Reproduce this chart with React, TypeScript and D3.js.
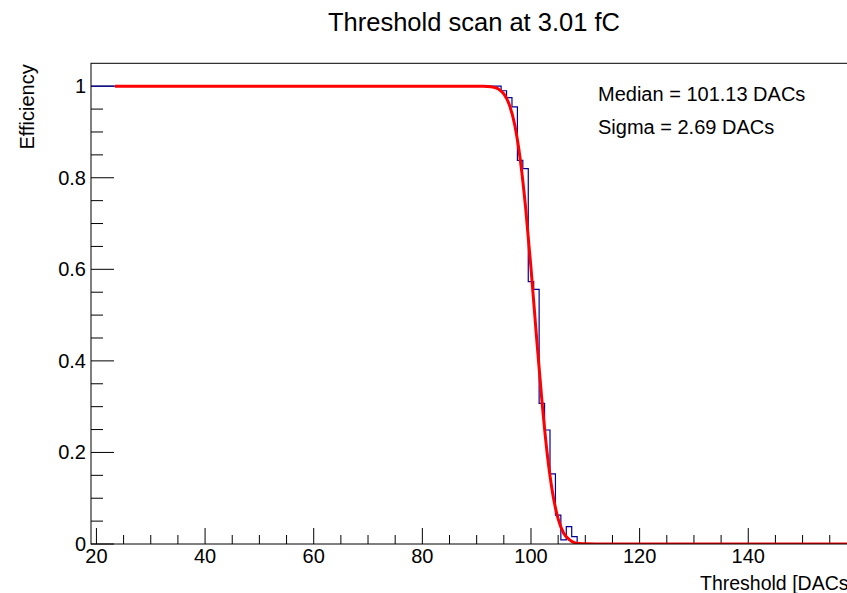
import React from "react";
import * as d3 from "d3";

// ---- data ----
const title = "Threshold scan at 3.01 fC";
const xTitle = "Threshold [DACs]";
const yTitle = "Efficiency";
const statLines = ["Median = 101.13 DACs", "Sigma = 2.69 DACs"];

const xDomain = [19, 160];
const yDomain = [0, 1.05];
const xMajorTicks = [20, 40, 60, 80, 100, 120, 140];
const yMajorTicks = [0, 0.2, 0.4, 0.6, 0.8, 1];
const yTickLabels = ["0", "0.2", "0.4", "0.6", "0.8", "1"];

// histogram: plateau at 1 from range start, transition bins (centres), then 0
const histStart = 19;
const histEnd = 160;
const binCenters = [94, 95, 96, 97, 98, 99, 100, 101, 102, 103, 104, 105, 106, 107, 108];
const binValues = [1.0, 0.99, 0.975, 0.955, 0.838, 0.82, 0.573, 0.556, 0.307, 0.249, 0.153, 0.063, 0.009, 0.038, 0.016];

// fit curve points
const fitX = [23.4, 88, 90, 91, 92, 93, 94, 95, 96, 97, 98, 99, 100, 101, 102, 103, 104, 105, 106, 107, 108, 109, 110, 112, 160];
const fitY = [1, 1, 1.0, 0.9998, 0.9994, 0.998, 0.994, 0.983, 0.96, 0.916, 0.842, 0.736, 0.603, 0.455, 0.315, 0.196, 0.11, 0.055, 0.024, 0.01, 0.003, 0.001, 0.0003, 0, 0];

const W = 847;
const H = 593;
const FONT = "'Liberation Sans', Arial, Helvetica, sans-serif";

export default function App() {
  const x = d3.scaleLinear().domain(xDomain).range([91, 856.9]);
  const y = d3.scaleLinear().domain(yDomain).range([544, 63.3]);

  // histogram step path
  const pts: [number, number][] = [];
  pts.push([histStart, 1]);
  binCenters.forEach((c, i) => {
    pts.push([c - 0.5, i === 0 ? 1 : binValues[i - 1]]);
    pts.push([c - 0.5, binValues[i]]);
  });
  const lastC = binCenters[binCenters.length - 1];
  pts.push([lastC + 0.5, binValues[binValues.length - 1]]);
  pts.push([lastC + 0.5, 0]);
  pts.push([histEnd, 0]);
  const histPath = d3.line<[number, number]>().x((d) => x(d[0])).y((d) => y(d[1]))(pts) || "";

  const fitPath =
    d3
      .line<number>()
      .x((_, i) => x(fitX[i]))
      .y((d) => y(d))
      .curve(d3.curveMonotoneX)(fitY) || "";

  const xMinor: number[] = [];
  for (let v = 20; v <= 160; v += 5) if (v % 20 !== 0) xMinor.push(v);
  const xMajorAll = [...xMajorTicks, 160];
  const yMinor: number[] = [];
  for (let k = 1; k <= 20; k++) {
    const v = k * 0.05;
    if (k % 4 !== 0) yMinor.push(v);
  }

  const x0 = x(xDomain[0]);
  const x1 = x(xDomain[1]);
  const y0 = y(yDomain[0]);
  const y1 = y(yDomain[1]);

  return (
    <svg
      width={W}
      height={H}
      style={{ position: "absolute", left: 0, top: 0, background: "#fff" }}
      fontFamily={FONT}
    >
      <rect x={0} y={0} width={W} height={H} fill="#fff" />
      <text x={474} y={31} fontSize={25.5} textAnchor="middle" fill="#000">
        {title}
      </text>

      <defs>
        <clipPath id="frameClip">
          <rect x={x0} y={y1} width={x1 - x0} height={y0 - y1} />
        </clipPath>
      </defs>

      {/* ticks */}
      {xMajorAll.map((v) => (
        <line key={"xM" + v} x1={x(v)} x2={x(v)} y1={y0} y2={y0 - 16} stroke="#000" strokeWidth={1} />
      ))}
      {xMinor.map((v) => (
        <line key={"xm" + v} x1={x(v)} x2={x(v)} y1={y0} y2={y0 - 9} stroke="#000" strokeWidth={1} />
      ))}
      {yMajorTicks.map((v) => (
        <line key={"yM" + v} x1={x0} x2={x0 + 23} y1={y(v)} y2={y(v)} stroke="#000" strokeWidth={1} />
      ))}
      {yMinor.map((v) => (
        <line key={"ym" + v} x1={x0} x2={x0 + 12} y1={y(v)} y2={y(v)} stroke="#000" strokeWidth={1} />
      ))}

      <g clipPath="url(#frameClip)">
        <path d={histPath} fill="none" stroke="#000099" strokeWidth={1.2} />
        <path d={fitPath} fill="none" stroke="#ff0000" strokeWidth={3} />
      </g>

      <rect x={x0} y={y1} width={x1 - x0} height={y0 - y1} fill="none" stroke="#000" strokeWidth={1} />

      {/* tick labels */}
      {xMajorTicks.map((v) => (
        <text key={"xl" + v} x={x(v)} y={563} fontSize={20} textAnchor="middle" fill="#000">
          {v}
        </text>
      ))}
      {yMajorTicks.map((v, i) => (
        <text key={"yl" + v} x={86} y={y(v) + 7} fontSize={20} textAnchor="end" fill="#000">
          {yTickLabels[i]}
        </text>
      ))}

      <text x={x1 - 3} y={590} fontSize={19.5} textAnchor="end" fill="#000">
        {xTitle}
      </text>
      <text
        transform={`translate(34, ${y1 + 1}) rotate(-90)`}
        fontSize={20}
        textAnchor="end"
        fill="#000"
      >
        {yTitle}
      </text>

      {statLines.map((s, i) => (
        <text key={s} x={598} y={101 + i * 33} fontSize={20} fill="#000">
          {s}
        </text>
      ))}
    </svg>
  );
}
